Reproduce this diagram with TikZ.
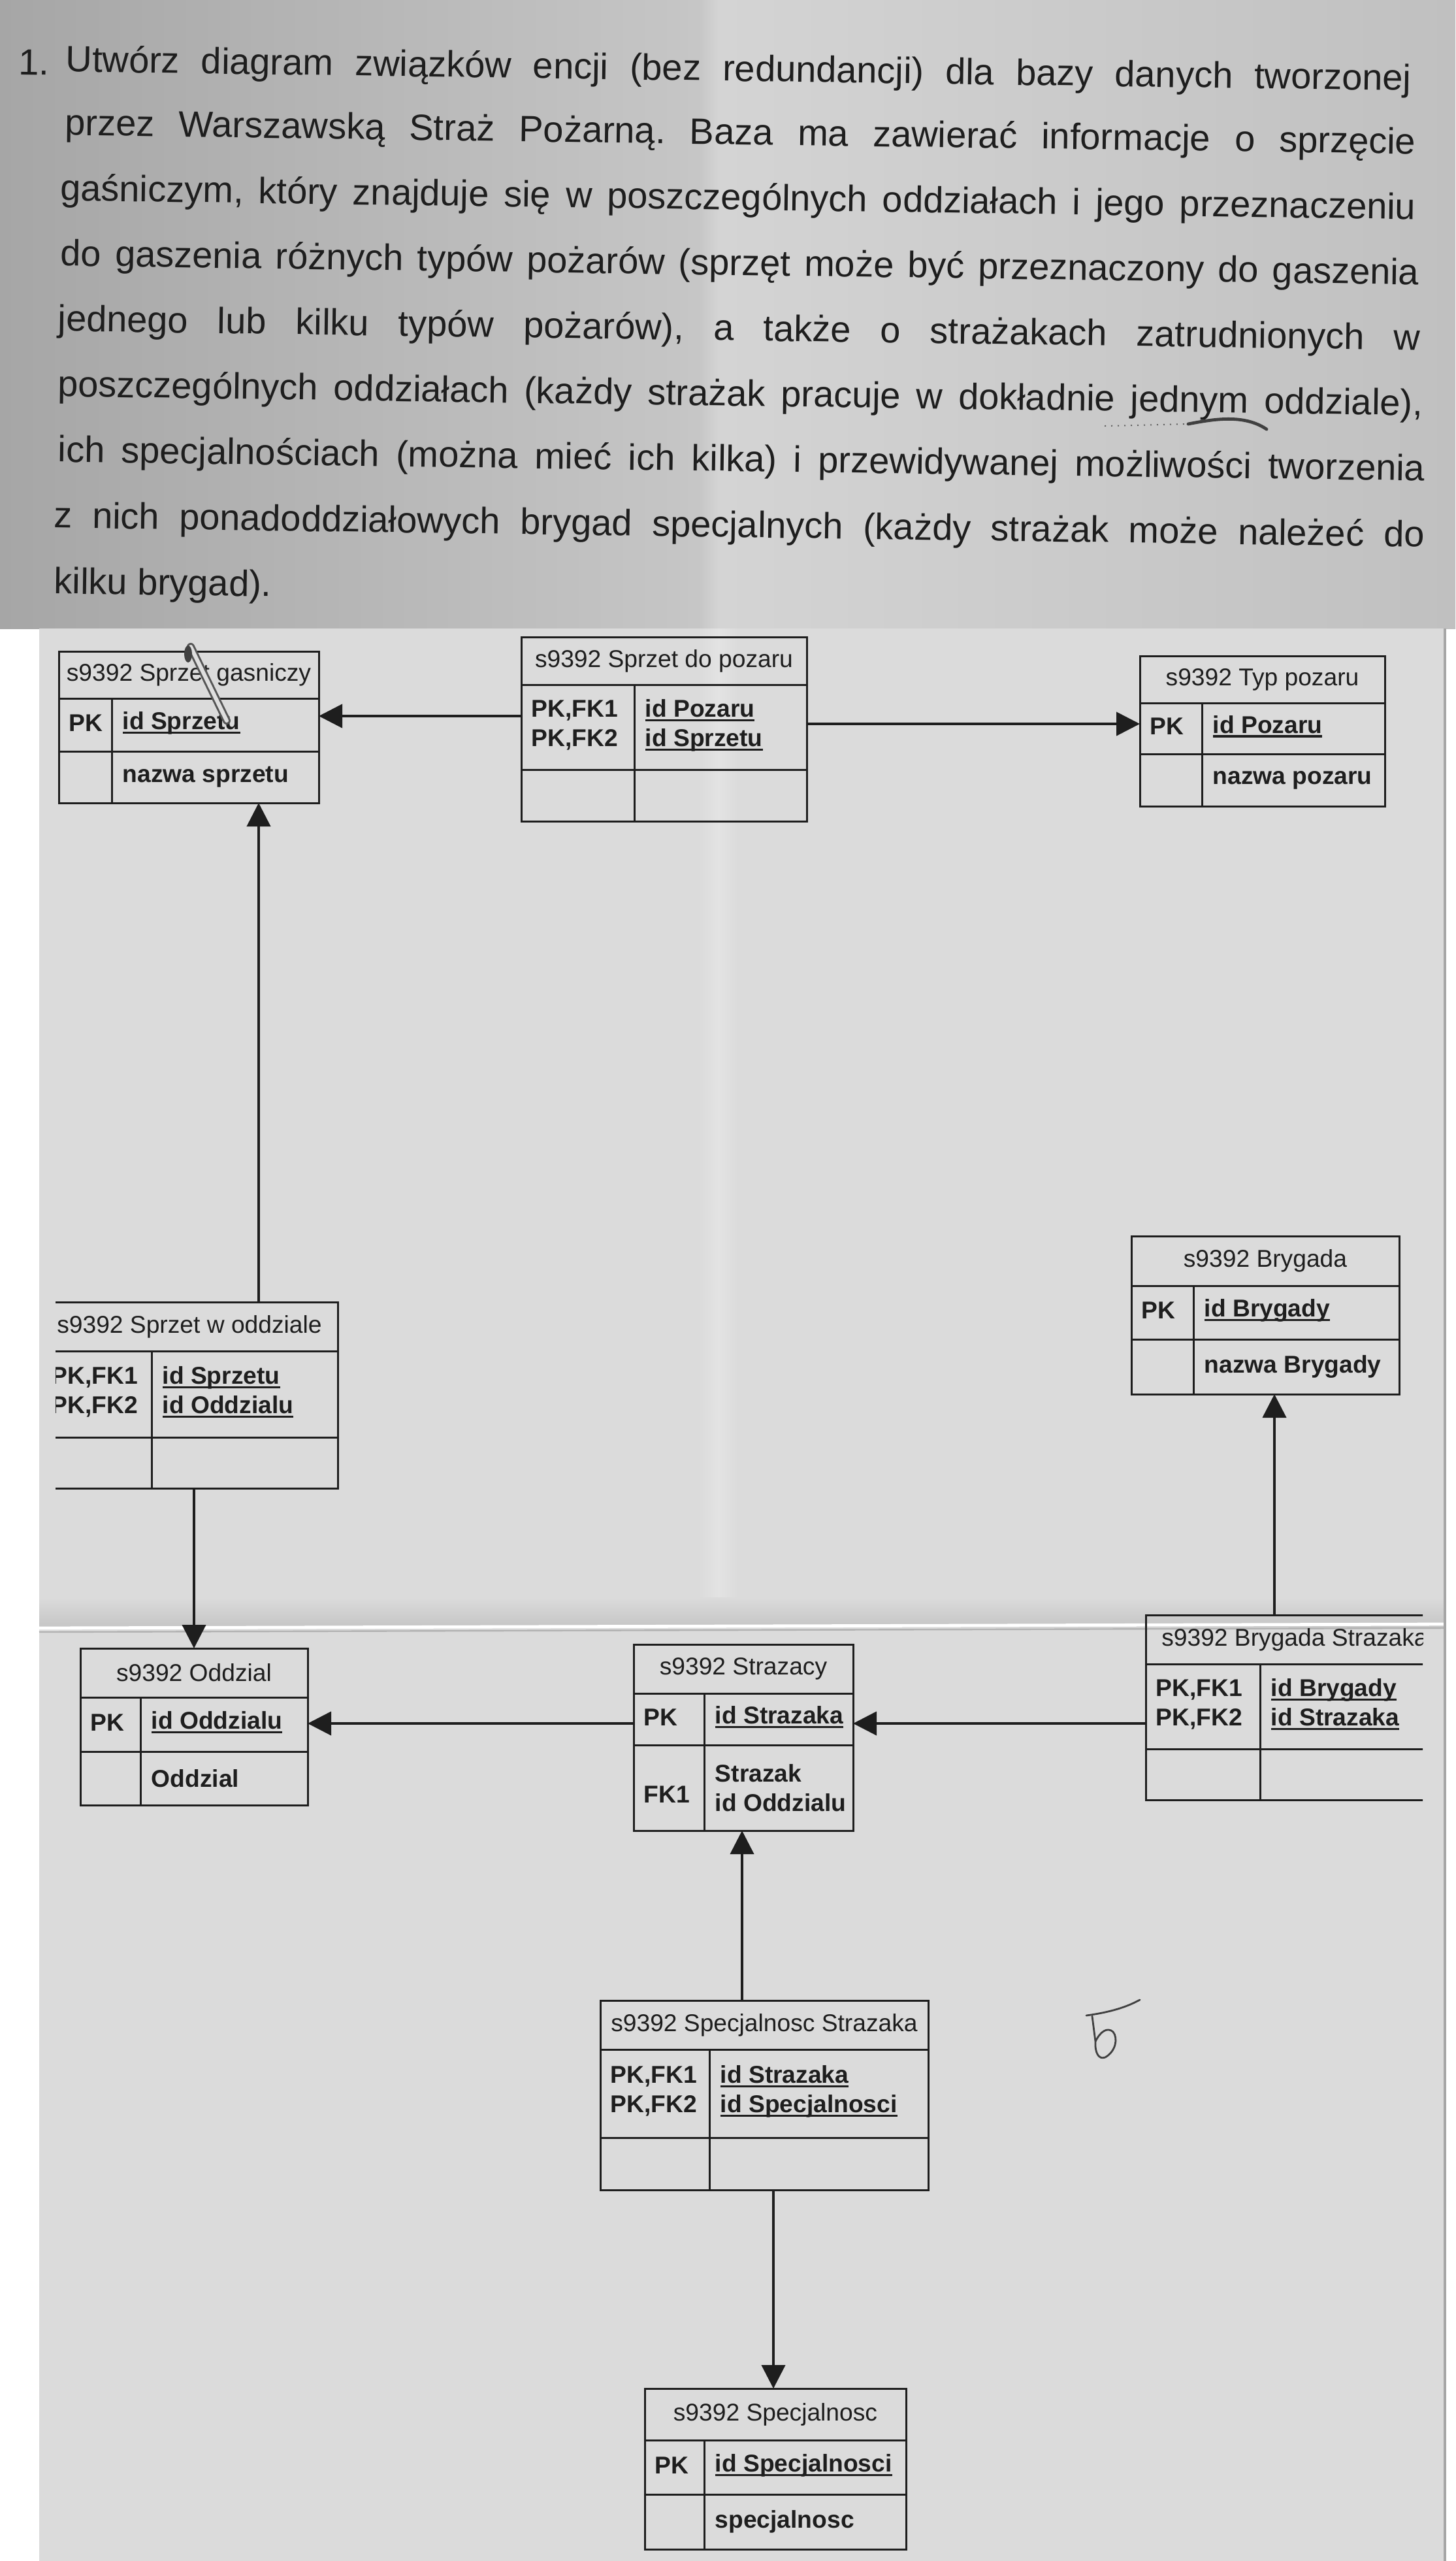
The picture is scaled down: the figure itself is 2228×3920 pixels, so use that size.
\documentclass[tikz,border=0pt]{standalone}
\usepackage{fontspec}
\setmainfont{Liberation Sans}
\usetikzlibrary{arrows.meta,fit}
\frenchspacing
\definecolor{ink}{HTML}{1E1E1E}
\definecolor{paper}{HTML}{DBDBDB}
\definecolor{photoA}{HTML}{A6A6A6}
\definecolor{photoB}{HTML}{C6C6C6}
\definecolor{photoC}{HTML}{D4D4D4}
\definecolor{photoD}{HTML}{C0C0C0}
\newcommand{\uln}[1]{\setbox0=\hbox{#1}\rlap{\rule[-1.7pt]{\wd0}{0.85pt}}\box0}
% #1 name, #2 left, #3 top, #4 right, #5 bottom, #6 title bottom, #7 row1 bottom, #8 column x
\newcommand{\ertbl}[8]{%
  \node[tblbox, fit={(#2,#3) (#4,#5)}] (#1) {};
  \draw[tblline] (#2,#6) -- (#4,#6) (#2,#7) -- (#4,#7) (#8,#6) -- (#8,#5);
  \coordinate (#1-t) at ({(#2+#4)/2},{(#3+#6)/2});
  \coordinate (#1-k1) at ({#2+15},{(#6+#7)/2-3});
  \coordinate (#1-a1) at ({#8+16},{(#6+#7)/2-3});
  \coordinate (#1-k2) at ({#2+15},{(#7+#5)/2});
  \coordinate (#1-a2) at ({#8+16},{(#7+#5)/2});
}
\begin{document}
\begin{tikzpicture}[x=0.25pt,y=-0.25pt,
  tblbox/.style={draw=ink, line width=0.75pt, inner sep=0pt, outer sep=0pt},
  tblline/.style={draw=ink, line width=0.75pt},
  ttl/.style={font=\fontsize{9.3pt}{11.25pt}\selectfont, text=ink, inner sep=0pt},
  cell/.style={font=\fontsize{9.3pt}{11.25pt}\selectfont\bfseries, text=ink, anchor=west, align=left, inner sep=0pt},
  conn/.style={draw=ink, line width=1pt, -{Triangle[length=9pt,width=9pt]}},
  para/.style={font=\fontsize{14pt}{16pt}\selectfont, text=ink, anchor=west, inner sep=0pt, rotate=-0.8},
  hand/.style={draw=ink!85, line width=0.7pt, line cap=round, line join=round}]
\useasboundingbox (0,0) rectangle (2228,3920);
% backgrounds
\fill[white] (0,0) rectangle (2228,3920);
\shade[left color=photoA, right color=photoB] (0,0) rectangle (1070,962);
\shade[left color=photoB, right color=photoC] (1070,0) rectangle (1100,962);
\shade[left color=photoC, right color=photoD] (1100,0) rectangle (2228,962);
\fill[paper] (60,962) rectangle (2212,3920);
\shade[left color=paper, right color=white!22!paper] (1070,962) rectangle (1100,2480);
\shade[left color=white!22!paper, right color=paper] (1100,962) rectangle (1130,2480);
\shade[top color=paper, bottom color=gray!45] (60,2445) rectangle (2212,2490);
\draw[white, line width=1.2pt] (60,2492) -- (2212,2486);
\draw[gray!60, line width=0.6pt] (60,2498) -- (2212,2492);
\draw[gray!70, line width=1pt] (2212,962) -- (2212,3920);
% paragraph
\node[para] (n0) at (28,95) {1.};
\node[para] (l1) at (100,95) {\makebox[515pt][s]{Utwórz diagram związków encji (bez redundancji) dla bazy danych tworzonej}};
\node[para] (l2) at (99,192) {\makebox[517pt][s]{przez Warszawską Straż Pożarną. Baza ma zawierać informacje o sprzęcie}};
\node[para] (l3) at (92,292) {\makebox[518.75pt][s]{gaśniczym, który znajduje się w poszczególnych oddziałach i jego przeznaczeniu}};
\node[para] (l4) at (92,392) {\makebox[520pt][s]{do gaszenia różnych typów pożarów (sprzęt może być przeznaczony do gaszenia}};
\node[para] (l5) at (88,492) {\makebox[521.5pt][s]{jednego lub kilku typów pożarów), a także o strażakach zatrudnionych w}};
\node[para] (l6) at (88,592) {\makebox[522.5pt][s]{poszczególnych oddziałach (każdy strażak pracuje w dokładnie jednym oddziale),}};
\node[para] (l7) at (88,692) {\makebox[523.25pt][s]{ich specjalnościach (można mieć ich kilka) i przewidywanej możliwości tworzenia}};
\node[para] (l8) at (82,793) {\makebox[524.75pt][s]{z nich ponadoddziałowych brygad specjalnych (każdy strażak może należeć do}};
\node[para] (l9) at (82,894) {kilku brygad).};
\draw[ink!70, line width=0.5pt, dotted] (1691,652) -- (1819,649);
\draw[hand, line width=1.2pt] (1819,649) .. controls (1860,641) and (1905,634) .. (1939,657);
% diagram
\begin{scope}
\clip (85,962) rectangle (2178,3920);
\ertbl{sg}{90}{997}{488}{1229}{1069}{1150}{171}
\node[ttl] at (sg-t) {s9392 Sprzet gasniczy};
\node[cell] at (sg-k1) {PK};
\node[cell] at (sg-a1) {\uln{id Sprzetu}};
\node[cell] at (sg-a2) {nazwa sprzetu};

\ertbl{sp}{798}{975}{1235}{1257}{1048}{1178}{971}
\node[ttl] at (sp-t) {s9392 Sprzet do pozaru};
\node[cell] at (sp-k1) {PK,FK1\\PK,FK2};
\node[cell] at (sp-a1) {\uln{id Pozaru}\\\uln{id Sprzetu}};

\ertbl{tp}{1745}{1004}{2120}{1234}{1076}{1154}{1840}
\node[ttl] at (tp-t) {s9392 Typ pozaru};
\node[cell] at (tp-k1) {PK};
\node[cell] at (tp-a1) {\uln{id Pozaru}};
\node[cell] at (tp-a2) {nazwa pozaru};

\ertbl{so}{63}{1993}{517}{2278}{2068}{2200}{232}
\node[ttl] at (so-t) {s9392 Sprzet w oddziale};
\node[cell] at (so-k1) {PK,FK1\\PK,FK2};
\node[cell] at (so-a1) {\uln{id Sprzetu}\\\uln{id Oddzialu}};

\ertbl{br}{1732}{1892}{2142}{2134}{1968}{2050}{1827}
\node[ttl] at (br-t) {s9392 Brygada};
\node[cell] at (br-k1) {PK};
\node[cell] at (br-a1) {\uln{id Brygady}};
\node[cell] at (br-a2) {nazwa Brygady};

\ertbl{od}{123}{2523}{471}{2763}{2598}{2681}{215}
\node[ttl] at (od-t) {s9392 Oddzial};
\node[cell] at (od-k1) {PK};
\node[cell] at (od-a1) {\uln{id Oddzialu}};
\node[cell] at (od-a2) {Oddzial};

\ertbl{st}{970}{2517}{1306}{2802}{2592}{2671}{1078}
\node[ttl] at (st-t) {s9392 Strazacy};
\node[cell] at (st-k1) {PK};
\node[cell] at (st-a1) {\uln{id Strazaka}};
\node[cell] at (st-k2) {\mbox{}\\FK1};
\node[cell] at (st-a2) {Strazak\\id Oddzialu};

\ertbl{bs}{1754}{2472}{2210}{2755}{2547}{2677}{1929}
\node[ttl] at (bs-t) {s9392 Brygada Strazaka};
\node[cell] at (bs-k1) {PK,FK1\\PK,FK2};
\node[cell] at (bs-a1) {\uln{id Brygady}\\\uln{id Strazaka}};

\ertbl{ss}{919}{3062}{1421}{3352}{3137}{3272}{1086}
\node[ttl] at (ss-t) {s9392 Specjalnosc Strazaka};
\node[cell] at (ss-k1) {PK,FK1\\PK,FK2};
\node[cell] at (ss-a1) {\uln{id Strazaka}\\\uln{id Specjalnosci}};

\ertbl{sc}{987}{3656}{1387}{3902}{3735}{3818}{1078}
\node[ttl] at (sc-t) {s9392 Specjalnosc};
\node[cell] at (sc-k1) {PK};
\node[cell] at (sc-a1) {\uln{id Specjalnosci}};
\node[cell] at (sc-a2) {specjalnosc};

% connectors
\coordinate (h1) at (0,1096);
\coordinate (h2) at (0,1108);
\coordinate (h3) at (0,2638);
\coordinate (v1) at (396,0);
\coordinate (v2) at (297,0);
\coordinate (v3) at (1951,0);
\coordinate (v4) at (1136,0);
\coordinate (v5) at (1184,0);
\draw[conn] (sp.west |- h1) -- (sg.east |- h1);
\draw[conn] (sp.east |- h2) -- (tp.west |- h2);
\draw[conn] (so.north -| v1) -- (sg.south -| v1);
\draw[conn] (so.south -| v2) -- (od.north -| v2);
\draw[conn] (st.west |- h3) -- (od.east |- h3);
\draw[conn] (bs.west |- h3) -- (st.east |- h3);
\draw[conn] (bs.north -| v3) -- (br.south -| v3);
\draw[conn] (ss.north -| v4) -- (st.south -| v4);
\draw[conn] (ss.south -| v5) -- (sc.north -| v5);
\end{scope}
% pin across the first table
\draw[line width=3pt, ink!75, line cap=round] (292,990) -- (347,1103);
\draw[line width=1.5pt, gray!25, line cap=round] (292,990) -- (347,1103);
\fill[ink!85] (288,1001) ellipse (6 and 13);
% handwritten mark
\draw[hand] (1663,3085) .. controls (1700,3080) and (1725,3072) .. (1745,3061);
\draw[hand] (1672,3086) -- (1677,3125) .. controls (1684,3110) and (1695,3102) .. (1704,3110)
  .. controls (1712,3120) and (1708,3140) .. (1692,3149) .. controls (1682,3153) and (1676,3142) .. (1677,3125);
\end{tikzpicture}
\end{document}
